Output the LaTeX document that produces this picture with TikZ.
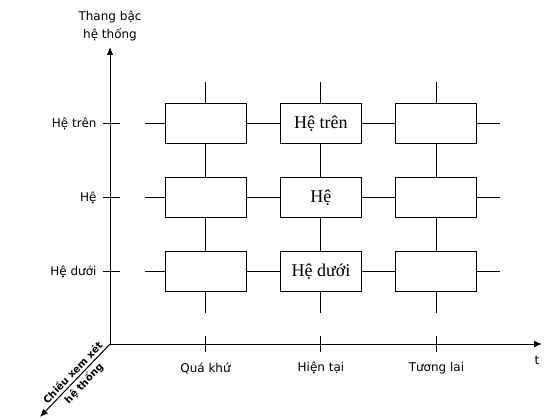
\documentclass[tikz,border=0pt]{standalone}
\usepackage{fontspec}
\setmainfont{Liberation Serif}
\newfontfamily\labelfont{DejaVu Sans}
\usetikzlibrary{arrows.meta,positioning}

\begin{document}
\begin{tikzpicture}[x=0.75pt,y=-0.75pt,>={Latex[length=6pt,width=5pt]},line width=0.75pt,
 node distance=55.5pt and 86.6pt,on grid,
 box/.style={draw,fill=white,minimum width=60.75pt,minimum height=30pt,inner sep=0pt,
  font=\fontsize{13.5}{16}\selectfont},
 lbl/.style={font=\labelfont\fontsize{9}{14}\selectfont,inner sep=0pt},
 zlbl/.style={sloped,pos=0.54,inner sep=2pt,font=\labelfont\bfseries\fontsize{7.5}{9}\selectfont}]
\useasboundingbox (0,0) rectangle (552,420);
% axes
\coordinate (O) at (110,344);
\coordinate (ytop) at (110,47);
\coordinate (tend) at (542,344);
\coordinate (zend) at (40,417);
\draw[->] (O) -- (ytop);
\draw[->] (O) -- (tend);
\draw[<-] (zend) -- node[zlbl,above] (z1) {Chiều xem xét}
 node[zlbl,below] (z2) {hệ thống} (O);
\node[lbl,align=center] (ylab) at (110,26) {Thang bậc\\hệ thống};
\node[lbl] (t) at (537,360) {t};
% boxes: p = past, n = now, f = future
\node[box] (p1) at (205.5,123.5) {};
\node[box,right=of p1] (n1) {Hệ trên};
\node[box,right=of n1] (f1) {};
\node[box,below=of p1] (p2) {};
\node[box,right=of p2] (n2) {Hệ};
\node[box,right=of n2] (f2) {};
\node[box,below=of p2] (p3) {};
\node[box,right=of p3] (n3) {Hệ dưới};
\node[box,right=of n3] (f3) {};
\path[draw] (p1) -- (n1) (n1) -- (f1)
(p2) -- (n2) (n2) -- (f2)
(p3) -- (n3) (n3) -- (f3)
(p1) -- (p2) (p2) -- (p3)
(n1) -- (n2) (n2) -- (n3)
(f1) -- (f2) (f2) -- (f3);
\foreach \r/\txt in {1/Hệ trên,2/Hệ,3/Hệ dưới} {
 \coordinate[left=15pt of p\r.west] (w\r);
 \coordinate[right=17pt of f\r.east] (e\r);
 \draw (w\r) -- (p\r) (f\r) -- (e\r);
 \draw ([xshift=-5.25pt]O |- p\r) -- ([xshift=7.5pt]O |- p\r);
 \node[lbl,anchor=east] (y\r) at ([xshift=-9.75pt]O |- p\r) {\txt};
}
\foreach \c/\txt in {p/Quá khứ,n/Hiện tại,f/Tương lai} {
 \coordinate[above=16pt of \c1.north] (\c t);
 \coordinate[below=16pt of \c3.south] (\c b);
 \draw (\c t) -- (\c1) (\c3) -- (\c b);
 \draw ([yshift=6pt]\c3 |- O) -- ([yshift=-6pt]\c3 |- O);
 \node[lbl] (x\c) at ([yshift=-18pt]\c3 |- O) {\txt};
}
\end{tikzpicture}
\end{document}
